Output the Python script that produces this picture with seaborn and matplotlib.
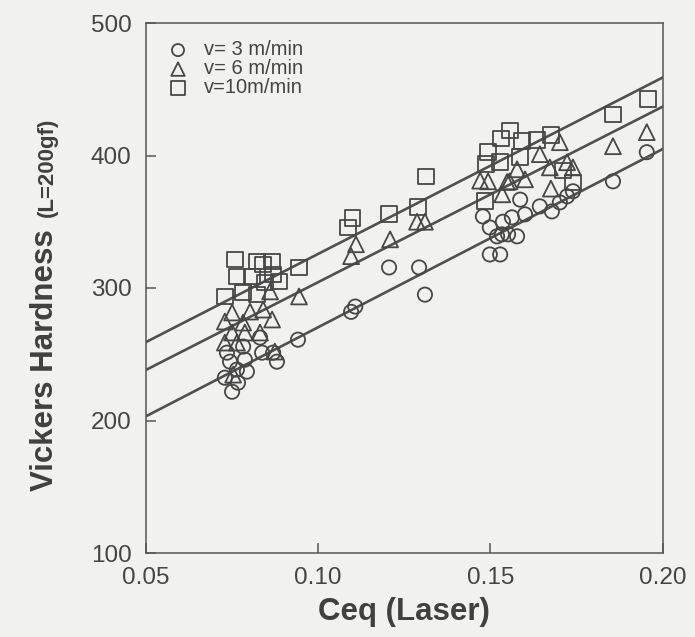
import matplotlib
matplotlib.use("Agg")
import matplotlib.pyplot as plt
import seaborn as sns
import numpy as np

# ---- data ----
ceq_v3 = [0.0832, 0.0783, 0.0838, 0.0870, 0.0736, 0.0745, 0.0788, 0.0881, 0.0765, 0.0794,
          0.0730, 0.0768, 0.0751,
          0.0942, 0.1096, 0.1108, 0.1206, 0.1293, 0.1310,
          0.1478, 0.1498, 0.1519, 0.1562, 0.1577, 0.1600, 0.1643, 0.1678, 0.1701, 0.1722,
          0.1739, 0.1498, 0.1528, 0.1551, 0.1586, 0.1536, 0.1533,
          0.1855, 0.1953]
hv_v3 = [262.6, 255.8, 251.2, 251.2, 251.2, 244.4, 245.9, 244.4, 238.4, 236.9,
         232.3, 228.5, 221.7,
         261.0, 282.0, 286.0, 315.5, 315.5, 295.0,
         354.0, 345.7, 339.0, 353.3, 339.0, 355.6, 361.6, 357.8, 364.6, 369.2,
         373.0, 325.3, 325.3, 340.5, 366.7, 350.0, 340.5,
         380.5, 402.5]

ceq_v6 = [0.0751, 0.0803, 0.0841, 0.0861, 0.0730, 0.0783, 0.0867, 0.0751, 0.0730, 0.0788,
          0.0832, 0.0765, 0.0875, 0.0754,
          0.0945, 0.1096, 0.1110, 0.1209, 0.1287, 0.1310, 0.1470,
          0.1701, 0.1643, 0.1672, 0.1722, 0.1739, 0.1493, 0.1548, 0.1577, 0.1600, 0.1534,
          0.1675, 0.1555,
          0.1855, 0.1953]
hv_v6 = [281.5, 282.2, 283.7, 297.4, 274.7, 273.9, 276.2, 266.4, 258.8, 266.4,
         266.4, 258.8, 252.0, 234.6,
         293.6, 324.0, 333.0, 336.7, 350.0, 350.0, 381.0,
         410.0, 401.0, 391.0, 394.9, 391.0, 380.5, 380.0, 389.6, 382.0, 370.7,
         375.0, 380.5,
         407.0, 417.6]

ceq_v10 = [0.0759, 0.0823, 0.0867, 0.0841, 0.0765, 0.0809, 0.0870, 0.0783, 0.0730, 0.0823,
           0.0846, 0.0887,
           0.0945, 0.1087, 0.1100, 0.1206, 0.1290, 0.1313,
           0.1557, 0.1530, 0.1591, 0.1635, 0.1675, 0.1493, 0.1586, 0.1528, 0.1487, 0.1710,
           0.1739, 0.1484,
           0.1855, 0.1957]
hv_v10 = [321.5, 320.0, 320.0, 317.8, 308.7, 308.7, 310.2, 296.6, 293.6, 295.1,
          304.2, 305.0,
          315.5, 345.7, 353.0, 356.0, 361.0, 384.0,
          419.0, 413.0, 410.8, 411.5, 415.3, 402.8, 399.0, 394.9, 393.4, 388.8,
          379.8, 365.6,
          431.0, 442.5]

# regression lines (end points)
line_ceq = [0.05, 0.20]
line_v3 = [203, 405]
line_v6 = [238, 437]
line_v10 = [259, 459]

labels = ["v= 3 m/min", "v= 6 m/min", "v=10m/min"]
x_ticks = [0.05, 0.10, 0.15, 0.20]
x_ticklabels = ["0.05", "0.10", "0.15", "0.20"]
y_ticks = [100, 200, 300, 400, 500]

# ---- style ----
sns.set_theme(style="ticks")
plt.rcParams["font.family"] = ["Liberation Sans", "DejaVu Sans"]

bg = "#f1f1ef"
ink = "#474747"

fig = plt.figure(figsize=(6.95, 6.37), dpi=100, facecolor=bg)
ax = fig.add_axes([145.5 / 695, 1 - 553 / 637, (663 - 145.5) / 695, (553 - 23) / 637])
ax.set_facecolor(bg)

for ly in (line_v3, line_v6, line_v10):
    sns.lineplot(x=line_ceq, y=ly, ax=ax, color="#505050", lw=1.9, zorder=2)

mk = dict(facecolor="none", edgecolor=ink, linewidth=1.3, zorder=3)
sns.scatterplot(x=ceq_v3, y=hv_v3, ax=ax, marker="o", s=105, label=labels[0], **mk)
sns.scatterplot(x=ceq_v6, y=hv_v6, ax=ax, marker="^", s=130, label=labels[1], **mk)
sns.scatterplot(x=ceq_v10, y=hv_v10, ax=ax, marker="s", s=125, label=labels[2], **mk)

ax.set_xlim(0.05, 0.20)
ax.set_ylim(100, 500)
ax.set_xticks(x_ticks)
ax.set_xticklabels(x_ticklabels)
ax.set_yticks(y_ticks)
ax.tick_params(direction="in", length=7, width=1.1, colors="#555555",
               labelcolor="#444444", labelsize=17.5, pad=10)
for sp in ax.spines.values():
    sp.set_color("#555555")
    sp.set_linewidth(1.1)

ax.set_xlabel("Ceq (Laser)", fontsize=22.5, fontweight="bold", color="#404040", labelpad=6)
ax.set_ylabel("")
fig.text(45 / 695, 1 - 491 / 637, "Vickers Hardness", rotation=90, ha="center", va="bottom",
         fontsize=22.5, fontweight="bold", color="#404040")
fig.text(47 / 695, 1 - 217 / 637, "(L=200gf)", rotation=90, ha="center", va="bottom",
         fontsize=16, fontweight="bold", color="#404040")

leg = ax.legend(loc="upper left", bbox_to_anchor=(0.02, 0.99), frameon=False,
                fontsize=14.5, labelspacing=0.0, handlelength=1.0, handletextpad=0.8,
                borderaxespad=0.2, markerscale=0.85)
for t in leg.get_texts():
    t.set_color("#444444")

fig.savefig("out.png", dpi=100, facecolor=bg)
